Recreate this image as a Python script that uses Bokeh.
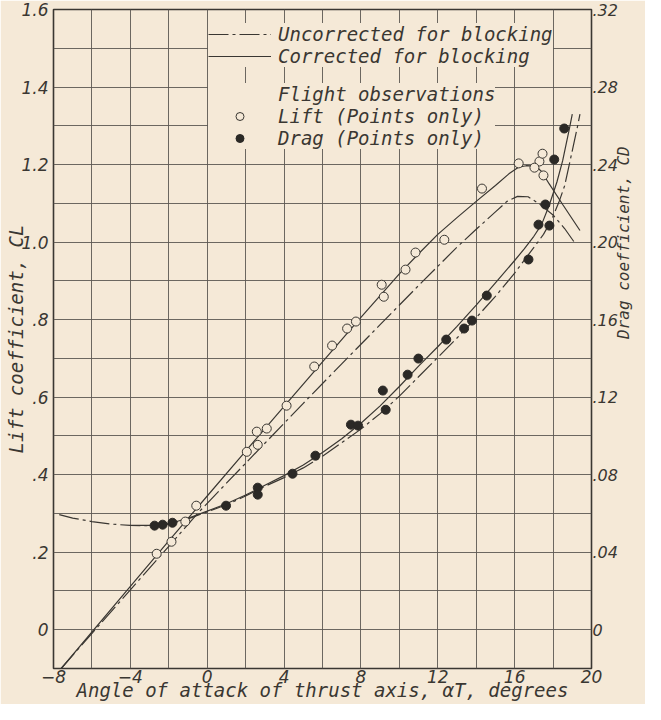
import math
from bokeh.plotting import figure
from bokeh.models import (Range1d, LinearAxis, FixedTicker, Legend, LegendItem,
                          CustomJSTickFormatter)
from bokeh.embed import file_html
from bokeh.resources import INLINE

# ---------------- data ----------------
# Lift coefficient, corrected for blocking (solid)
lift_corr_alpha = [-7.6, -4, -2, 0, 2, 4, 6, 8, 10, 11, 12, 13, 14, 15, 15.7, 16.2,
                   16.6, 17.1, 17.4, 17.8, 18.5, 19.4]
lift_corr_cl = [-0.10, 0.112, 0.229, 0.345, 0.461, 0.576, 0.691, 0.806, 0.918, 0.970,
                1.020, 1.063, 1.105, 1.146, 1.176, 1.193, 1.197, 1.196, 1.182, 1.150,
                1.097, 1.030]

# Lift coefficient, uncorrected for blocking (dash-dot)
lift_unc_alpha = [-7.6, -4, -2, -0.5, 1, 3, 5, 7, 9, 11, 13, 14, 15, 15.6, 16.15,
                  16.7, 17.3, 18.0, 18.6, 19.1]
lift_unc_cl = [-0.10, 0.103, 0.215, 0.300, 0.378, 0.481, 0.584, 0.686, 0.787, 0.888,
               0.987, 1.033, 1.078, 1.105, 1.118, 1.117, 1.098, 1.070, 1.035, 1.000]

# Drag coefficient, corrected for blocking (solid)
drag_corr_alpha = [-4, -3, -2, -1, 0, 1, 2, 3, 4, 5, 6, 7, 8, 9, 10, 11, 12, 13, 14,
                   15, 16, 16.5, 17.0, 17.4, 17.8, 18.2, 18.5, 18.85, 19.0]
drag_corr_cd = [0.0538, 0.0538, 0.0547, 0.0575, 0.0612, 0.065, 0.0695, 0.0745, 0.0795,
                0.085, 0.0915, 0.0985, 0.1065, 0.1155, 0.1255, 0.136, 0.146, 0.1565,
                0.1675, 0.179, 0.1905, 0.1965, 0.203, 0.209, 0.219, 0.231, 0.242,
                0.2586, 0.266]

# Drag coefficient, uncorrected for blocking (dash-dot)
drag_unc_alpha = [-7.7, -7, -6, -5, -4, -3, -2, -1, 0, 1, 2, 3, 4, 5, 6, 7, 8, 9, 10,
                  11, 12, 13, 14, 15, 16, 16.6, 17.1, 17.5, 17.9, 18.3, 18.6, 18.9,
                  19.25, 19.4]
drag_unc_cd = [0.0594, 0.0576, 0.0558, 0.0545, 0.0538, 0.0537, 0.0545, 0.0572, 0.0608,
               0.0645, 0.069, 0.074, 0.0785, 0.0835, 0.0895, 0.0965, 0.1035, 0.1115,
               0.1205, 0.1305, 0.1405, 0.1505, 0.161, 0.172, 0.184, 0.192, 0.1985,
               0.204, 0.211, 0.2205, 0.229, 0.2426, 0.2586, 0.266]

# Flight observations: lift (open circles)
flight_lift_alpha = [-2.63, -1.86, -1.14, -0.57, 2.06, 2.63, 2.58, 3.10, 4.13, 5.57,
                     6.50, 7.28, 7.74, 9.08, 9.19, 10.32, 10.84, 12.34, 14.30, 16.21,
                     17.29, 17.45, 17.03, 17.50]
flight_lift_cl = [0.196, 0.227, 0.279, 0.320, 0.459, 0.477, 0.511, 0.519, 0.578, 0.679,
                  0.733, 0.777, 0.795, 0.890, 0.859, 0.929, 0.973, 1.006, 1.138, 1.203,
                  1.208, 1.228, 1.192, 1.172]

# Flight observations: drag (filled circles)
flight_drag_alpha = [-2.74, -2.32, -1.81, 0.98, 2.63, 2.63, 4.44, 5.63, 7.48, 7.85,
                     9.14, 9.29, 10.43, 10.99, 12.44, 13.37, 13.78, 14.55, 16.72,
                     17.24, 17.81, 17.60, 18.06, 18.58]
flight_drag_cd = [0.0537, 0.0542, 0.0552, 0.0640, 0.0733, 0.0697, 0.0805, 0.0898,
                  0.1058, 0.1053, 0.1234, 0.1135, 0.1316, 0.1399, 0.1497, 0.1554,
                  0.1595, 0.1724, 0.1910, 0.2090, 0.2085, 0.2194, 0.2426, 0.2586]

# Axis ticks
x_ticks = [-8, -4, 0, 4, 8, 12, 16, 20]
x_grid = [-8, -6, -4, -2, 0, 2, 4, 6, 8, 10, 12, 14, 16, 18, 20]
cl_ticks = [0, 0.2, 0.4, 0.6, 0.8, 1.0, 1.2, 1.4, 1.6]
cl_grid = [-0.1, 0, 0.1, 0.2, 0.3, 0.4, 0.5, 0.6, 0.7, 0.8, 0.9, 1.0, 1.1, 1.2, 1.3,
           1.4, 1.5, 1.6]
cd_ticks = [0, 0.04, 0.08, 0.12, 0.16, 0.20, 0.24, 0.28, 0.32]

# ---------------- style ----------------
BG = "#f5e9d7"
INK = "#3a3732"
GRID = "#5d5953"
FONT = "DejaVu Sans Mono"      # lettering-like text
TICK_FONT = "DejaVu Sans"      # numbers
DASHDOT = "20 4 3 4"

p = figure(width=645, height=704, x_range=Range1d(-8, 20), y_range=Range1d(-0.1, 1.6),
           output_backend="svg", toolbar_location=None,
           min_border_left=53, min_border_right=50, min_border_top=9,
           min_border_bottom=36)
p.extra_y_ranges = {"drag": Range1d(-0.02, 0.32)}

p.background_fill_color = BG
p.border_fill_color = BG
p.outline_line_color = INK
p.outline_line_width = 1.6

# grid
p.xgrid.ticker = FixedTicker(ticks=x_grid)
p.ygrid.ticker = FixedTicker(ticks=cl_grid)
for g in (p.xgrid, p.ygrid):
    g.grid_line_color = GRID
    g.grid_line_width = 1
    g.grid_line_alpha = 0.9


def style_axis(ax, label_size="17px", title_size="19px"):
    ax.axis_line_color = None
    ax.major_tick_line_color = None
    ax.minor_tick_line_color = None
    ax.major_tick_out = 0
    ax.major_tick_in = 0
    ax.minor_tick_out = 0
    ax.minor_tick_in = 0
    ax.major_label_text_font = TICK_FONT
    ax.major_label_text_font_style = "italic"
    ax.major_label_text_font_size = label_size
    ax.major_label_text_color = INK
    ax.axis_label_text_font = FONT
    ax.axis_label_text_font_style = "italic"
    ax.axis_label_text_font_size = title_size
    ax.axis_label_text_color = INK


xa = p.xaxis[0]
xa.ticker = FixedTicker(ticks=x_ticks)
xa.axis_label = "Angle of attack of thrust axis, \u03b1T, degrees"
style_axis(xa)
xa.major_label_standoff = 1
xa.axis_label_standoff = -7

ya = p.yaxis[0]
ya.ticker = FixedTicker(ticks=cl_ticks)
ya.formatter = CustomJSTickFormatter(
    code="if (tick == 0) return '0'; var s = tick.toFixed(1); return tick < 1 ? s.slice(1) : s;")
ya.axis_label = "Lift coefficient, CL"
style_axis(ya)
ya.major_label_standoff = 5
ya.axis_label_standoff = -9

ra = LinearAxis(y_range_name="drag", ticker=FixedTicker(ticks=cd_ticks),
                formatter=CustomJSTickFormatter(
                    code="if (tick == 0) return '0'; return tick.toFixed(2).slice(1);"),
                axis_label="Drag coefficient, CD")
style_axis(ra, label_size="16px", title_size="16px")
ra.axis_label_text_line_height = 1.0
ra.major_label_standoff = 1
ra.axis_label_standoff = 3
ra.axis_label_orientation = math.pi / 2
p.add_layout(ra, "right")

# ---------------- curves ----------------
r_lift_unc = p.line(lift_unc_alpha, lift_unc_cl, line_color=INK, line_width=1.2,
                    line_dash=DASHDOT)
r_lift_corr = p.line(lift_corr_alpha, lift_corr_cl, line_color=INK, line_width=1.2)
p.line(drag_unc_alpha, drag_unc_cd, line_color=INK, line_width=1.2, line_dash=DASHDOT,
       y_range_name="drag")
p.line(drag_corr_alpha, drag_corr_cd, line_color=INK, line_width=1.2,
       y_range_name="drag")

# ---------------- points ----------------
r_lift_pts = p.scatter(flight_lift_alpha, flight_lift_cl, marker="circle", size=9,
                       fill_color=BG, line_color=INK, line_width=1)
r_drag_pts = p.scatter(flight_drag_alpha, flight_drag_cd, marker="circle", size=9,
                       fill_color="#2b2926", line_color="#2b2926", line_width=1,
                       y_range_name="drag")
r_dummy = p.scatter([], [], marker="circle", size=0, fill_alpha=0, line_alpha=0)

# ---------------- legends ----------------
def style_legend(leg):
    leg.label_text_font = FONT
    leg.label_text_font_style = "italic"
    leg.label_text_font_size = "19px"
    leg.label_text_color = INK
    leg.label_height = 20
    leg.glyph_height = 20
    leg.glyph_width = 63
    leg.label_standoff = 7
    leg.padding = 4
    leg.margin = 0
    leg.background_fill_color = BG
    leg.background_fill_alpha = 1
    leg.border_line_color = None


leg1 = Legend(items=[LegendItem(label="Uncorrected for blocking", renderers=[r_lift_unc]),
                     LegendItem(label="Corrected for blocking", renderers=[r_lift_corr])],
              location=(155, 601), spacing=0)
style_legend(leg1)
p.add_layout(leg1)

leg2 = Legend(items=[LegendItem(label="Flight observations", renderers=[r_dummy]),
                     LegendItem(label="Lift (Points only)", renderers=[r_lift_pts]),
                     LegendItem(label="Drag (Points only)", renderers=[r_drag_pts])],
              location=(155, 519), spacing=0)
style_legend(leg2)
p.add_layout(leg2)

html = file_html(p, INLINE)
html = html.replace("<body>", '<body style="background:%s">' % BG, 1)
open("out.html", "w").write(html)
